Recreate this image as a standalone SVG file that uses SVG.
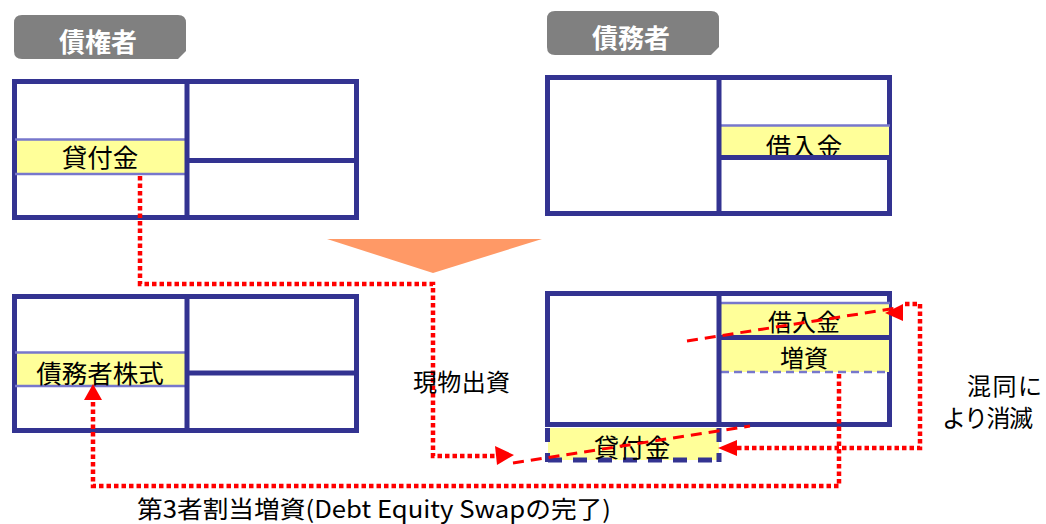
<svg xmlns="http://www.w3.org/2000/svg" width="1046" height="524" viewBox="0 0 1046 524">
<defs>
<style>
.frame{fill:#ffffff;stroke:#333391;stroke-width:5}
.div{stroke:#333391;stroke-width:5;fill:none}
.thin{stroke:#7777cc;stroke-width:2.5;fill:none}
.thindash{stroke:#7777cc;stroke-width:2.5;fill:none;stroke-dasharray:8 5}
.band{fill:#ffff99}
.navydash{stroke:#333391;stroke-width:5;fill:none;stroke-dasharray:14 11}
.lbl{fill:#808080}
.ht{font-family:"Noto Sans CJK JP","Noto Sans",sans-serif;font-size:26px;font-weight:bold;fill:#ffffff;text-anchor:middle}
.t{font-family:"Noto Sans CJK JP","Noto Sans",sans-serif;font-size:25.5px;fill:#000000;text-anchor:middle}
.ts{font-family:"Noto Sans CJK JP","Noto Sans",sans-serif;font-size:24px;fill:#000000;text-anchor:middle}
.tl{font-family:"Noto Sans CJK JP","Noto Sans",sans-serif;font-size:24px;fill:#000000}
.dot{stroke:#ff0000;stroke-width:4.5;fill:none;stroke-dasharray:4.5 3}
.dash{stroke:#ff0000;stroke-width:3;fill:none;stroke-dasharray:11 7}
.ah{fill:#ff0000}
</style>
</defs>
<rect width="1046" height="524" fill="#ffffff"/>

<g id="label-creditor">
<path class="lbl" d="M22 15H178Q186 15 186 23V51L178 59H22Q14 59 14 51V23Q14 15 22 15Z"/>
<text class="ht" x="98" y="52">債権者</text>
</g>
<g id="label-debtor">
<path class="lbl" d="M555 11H711Q719 11 719 19V47L711 55H555Q547 55 547 47V19Q547 11 555 11Z"/>
<text class="ht" x="631" y="48">債務者</text>
</g>

<g id="creditor-before">
<rect class="frame" x="14.5" y="81.5" width="342" height="136"/>
<rect class="band" x="17" y="139" width="170" height="35"/>
<line class="thin" x1="15" y1="139.5" x2="187" y2="139.5"/>
<line class="thin" x1="15" y1="174" x2="187" y2="174"/>
<text class="t" x="100" y="167">貸付金</text>
<line class="div" x1="187" y1="81" x2="187" y2="218"/>
<line class="div" x1="187" y1="160.5" x2="357" y2="160.5"/>
</g>

<g id="debtor-before">
<rect class="frame" x="547.5" y="77.5" width="342" height="136"/>
<rect class="band" x="719" y="125" width="170" height="32"/>
<line class="thin" x1="719" y1="125.5" x2="890" y2="125.5"/>
<text class="t" x="804" y="156">借入金</text>
<line class="div" x1="719" y1="77" x2="719" y2="214"/>
<line class="div" x1="719" y1="157.5" x2="890" y2="157.5"/>
</g>

<g id="arrow-down">
<polygon points="327,239 542,239 433,273" fill="#ff9966"/>
</g>

<g id="creditor-after">
<rect class="frame" x="14.5" y="296.5" width="342" height="134"/>
<rect class="band" x="17" y="352" width="170" height="34"/>
<line class="thin" x1="15" y1="352.5" x2="187" y2="352.5"/>
<line class="thin" x1="15" y1="386" x2="187" y2="386"/>
<text class="t" x="100" y="383">債務者株式</text>
<line class="div" x1="187" y1="296" x2="187" y2="431"/>
<line class="div" x1="187" y1="373" x2="357" y2="373"/>
</g>

<g id="debtor-after">
<rect class="frame" x="547.5" y="293.5" width="342" height="131"/>
<rect class="band" x="719" y="303" width="170" height="34"/>
<rect class="band" x="719" y="338" width="170" height="34"/>
<line class="thin" x1="719" y1="303" x2="890" y2="303"/>
<line class="thindash" x1="721" y1="372" x2="890" y2="372"/>
<text class="ts" x="804" y="331">借入金</text>
<text class="ts" x="804" y="367">増資</text>
<line class="div" x1="719" y1="293" x2="719" y2="425"/>
<line class="div" x1="719" y1="337.5" x2="890" y2="337.5"/>
</g>

<g id="loan-added">
<rect class="band" x="548" y="428" width="171" height="32"/>
<line class="navydash" x1="547.5" y1="428" x2="547.5" y2="462"/>
<line class="navydash" x1="548" y1="460" x2="720" y2="460"/>
<line class="navydash" x1="719" y1="428" x2="719" y2="462"/>
<text class="t" x="632" y="457">貸付金</text>
</g>

<g id="connectors">
<path class="dot" d="M140 176V284H433V456H496"/>
<polygon class="ah" points="514,455 495,446 497,465"/>
<path class="dash" d="M513 463L750 426"/>
<path class="dash" d="M687 341L897 308"/>
<path class="dot" d="M737 448H920V304H903"/>
<polygon class="ah" points="718,448 737,440 737,456"/>
<polygon class="ah" points="885,313 903,304 903,321"/>
<path class="dot" d="M839 374V486H93V399"/>
<polygon class="ah" points="93,384 84,400 102,400"/>
</g>

<g id="labels">
<text class="tl" x="413" y="391" textLength="97">現物出資</text>
<text class="tl" x="967" y="395" textLength="75">混同に</text>
<text class="tl" x="942" y="427" textLength="91">より消滅</text>
<text class="tl" x="137" y="518" textLength="474" lengthAdjust="spacingAndGlyphs">第3者割当増資(Debt Equity Swapの完了)</text>
</g>
</svg>
